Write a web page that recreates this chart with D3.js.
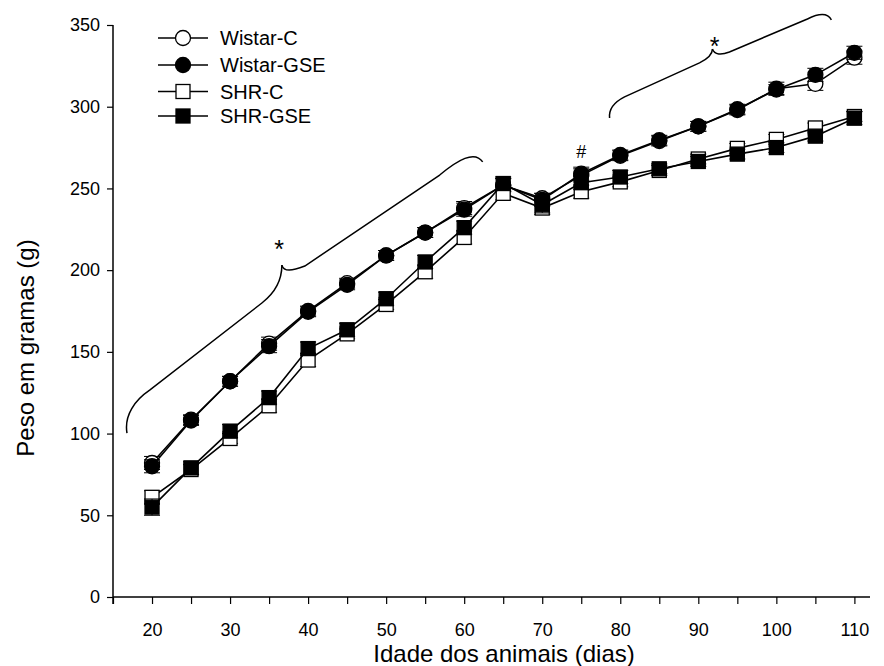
<!DOCTYPE html>
<html><head><meta charset="utf-8">
<script src="https://cdn.jsdelivr.net/npm/d3@7"></script>
<style>
html,body{margin:0;padding:0;background:#fff;}
svg{display:block;font-family:"Liberation Sans",Arial,sans-serif;}
</style></head>
<body><svg id="chart" width="884" height="666"></svg>
<script>
// ---- data ----
const days = [20,25,30,35,40,45,50,55,60,65,70,75,80,85,90,95,100,105,110];
const wistarC   = [82,108.5,132,155,175,192,209,223,238,252,244,258,270,279,288,298,311,314,330];
const wistarGSE = [80,108,132,153.5,174.5,191,209,223,237,252,243,259,270.5,279.5,288,298.5,310.5,319.5,333];
const shrC      = [61,78,97,117,145,161,179,199,220,247,238,248,254,261,268,274.5,280,287,294];
const shrGSE    = [55,79,101.5,122,152,163.5,182.5,205,226,253,240,253.5,257,262,266.5,271,275,282,293];
const semWistarC   = [4,3,3,4,3,3,3,3,4,4,3,4,3,3,3,3,4,4,4];
const semWistarGSE = [4,3,3,4,3,3,3,3,4,4,4,4,3,3,3,3,3,4,4];
const semShrC      = [4,3,3,4,4,3,3,4,4,4,4,4,3,3,3,3,3,3,3];
const semShrGSE    = [5,4,4,4,4,4,4,4,4,4,5,4,4,3,3,3,3,3,4];
const seriesNames = ["Wistar-C","Wistar-GSE","SHR-C","SHR-GSE"];
const xTickLabels = [20,30,40,50,60,70,80,90,100,110];
const yTickLabels = [0,50,100,150,200,250,300,350];
const xTitle = "Idade dos animais (dias)";
const yTitle = "Peso em gramas (g)";
// annotation anchor points (data units)
const brace1A = [[16.79,100.3],[16.41,111.4],[17.82,120.5],[19.74,126.7],[34.08,179.9],[35.74,186.0],[36.64,194.0],[36.64,203.1]];
const brace1B = [[36.64,203.1],[36.89,198.8],[37.92,199.5],[39.58,202.5],[56.86,258.2],[59.17,267.4],[61.35,273.5],[62.37,266.2]];
const brace2A = [[78.63,293.1],[78.50,299.2],[79.27,302.9],[80.55,306.0],[90.15,326.8],[91.17,329.2],[91.81,331.6],[91.81,335.3]];
const brace2B = [[91.81,335.3],[92.07,331.6],[92.97,331.6],[93.99,333.5],[103.98,353.7],[105.26,356.7],[106.54,357.9],[107.05,353.1]];
const marks = [{t:"*",x:36.3,y:213},{t:"*",x:92.1,y:337},{t:"#",x:75,y:272}];

const series = [
  {name:seriesNames[0], v:wistarC,   e:semWistarC,   shape:"circle", fill:"#fff"},
  {name:seriesNames[1], v:wistarGSE, e:semWistarGSE, shape:"circle", fill:"#000"},
  {name:seriesNames[2], v:shrC,      e:semShrC,      shape:"square", fill:"#fff"},
  {name:seriesNames[3], v:shrGSE,    e:semShrGSE,    shape:"square", fill:"#000"}
];

const svg = d3.select("#chart");
const x = d3.scaleLinear().domain([15,112]).range([113,870]);
const y = d3.scaleLinear().domain([0,350]).range([597,25]);

// axes
const xAxis = d3.axisBottom(x).tickValues(d3.range(15,111,5)).tickSize(7).tickPadding(19)
  .tickFormat(d => xTickLabels.includes(d) ? d : "");
const gx = svg.append("g").attr("transform",`translate(0,${y(0)})`).call(xAxis);
gx.select(".domain").attr("d",`M${x(15)},0H${x(112)}`).attr("stroke-width",1.5);
gx.selectAll(".tick line").attr("stroke-width",1.2);
gx.selectAll("text").attr("font-size",18).attr("font-family","Liberation Sans, Arial, sans-serif").attr("fill","#000");

const yAxis = d3.axisLeft(y).tickValues(yTickLabels).tickSize(6).tickPadding(7);
const gy = svg.append("g").attr("transform",`translate(${x(15)},0)`).call(yAxis);
gy.select(".domain").attr("d",`M0,${y(350)}V${y(0)+7}`).attr("stroke-width",1.5);
gy.selectAll(".tick line").attr("stroke-width",1.2);
gy.selectAll("text").attr("font-size",18).attr("font-family","Liberation Sans, Arial, sans-serif").attr("fill","#000");

// titles
svg.append("text").attr("x",504).attr("y",662).attr("text-anchor","middle")
  .attr("font-size",24).text(xTitle);
svg.append("text").attr("transform",`translate(34,${(y(350)+y(0))/2+37}) rotate(-90)`)
  .attr("text-anchor","middle").attr("font-size",24).text(yTitle);

// series
const line = d3.line().x((d,i)=>x(days[i])).y(d=>y(d));
function drawMarker(g, shape, fill, cx, cy, r){
  if(shape==="circle"){
    g.append("circle").attr("cx",cx).attr("cy",cy).attr("r",r)
      .attr("fill",fill).attr("stroke","#000").attr("stroke-width",1.3);
  } else {
    g.append("rect").attr("x",cx-r).attr("y",cy-r).attr("width",2*r).attr("height",2*r)
      .attr("fill",fill).attr("stroke","#000").attr("stroke-width",1.3);
  }
}
series.forEach(s=>{
  const g = svg.append("g");
  g.append("path").datum(s.v).attr("d",line).attr("fill","none").attr("stroke","#000").attr("stroke-width",1.6);
  s.v.forEach((v,i)=>{
    const cx = x(days[i]);
    g.append("line").attr("x1",cx).attr("x2",cx).attr("y1",y(v-s.e[i])).attr("y2",y(v+s.e[i]))
      .attr("stroke","#000").attr("stroke-width",1);
    [v-s.e[i], v+s.e[i]].forEach(ev=>{
      g.append("line").attr("x1",cx-8).attr("x2",cx+8).attr("y1",y(ev)).attr("y2",y(ev))
        .attr("stroke","#000").attr("stroke-width",1);
    });
  });
  s.v.forEach((v,i)=>{
    drawMarker(g, s.shape, s.fill, x(days[i]), y(v), s.shape==="circle"?7.5:7);
  });
});

// braces
function bracePath(pts){
  const p = pts.map(d=>[x(d[0]),y(d[1])]);
  return `M${p[0]}C${p[1]} ${p[2]} ${p[3]}L${p[4]}C${p[5]} ${p[6]} ${p[7]}`;
}
[brace1A,brace1B,brace2A,brace2B].forEach(b=>{
  svg.append("path").attr("d",bracePath(b)).attr("fill","none").attr("stroke","#000").attr("stroke-width",1.5);
});
marks.forEach(m=>{
  svg.append("text").attr("x",x(m.x)).attr("y",y(m.y)).attr("text-anchor","middle")
    .attr("dominant-baseline","central").attr("font-size",m.t==="*"?25:18)
    .attr("fill","#000").text(m.t);
});

// legend
const legY = [38,65,91.5,116];
series.forEach((s,i)=>{
  const g = svg.append("g");
  g.append("line").attr("x1",158).attr("x2",208).attr("y1",legY[i]).attr("y2",legY[i])
    .attr("stroke","#000").attr("stroke-width",1.6);
  drawMarker(g, s.shape, s.fill, 183, legY[i], s.shape==="circle"?7.5:7);
  g.append("text").attr("x",220).attr("y",legY[i]).attr("dominant-baseline","central")
    .attr("font-size",20).text(s.name);
});
</script></body></html>
